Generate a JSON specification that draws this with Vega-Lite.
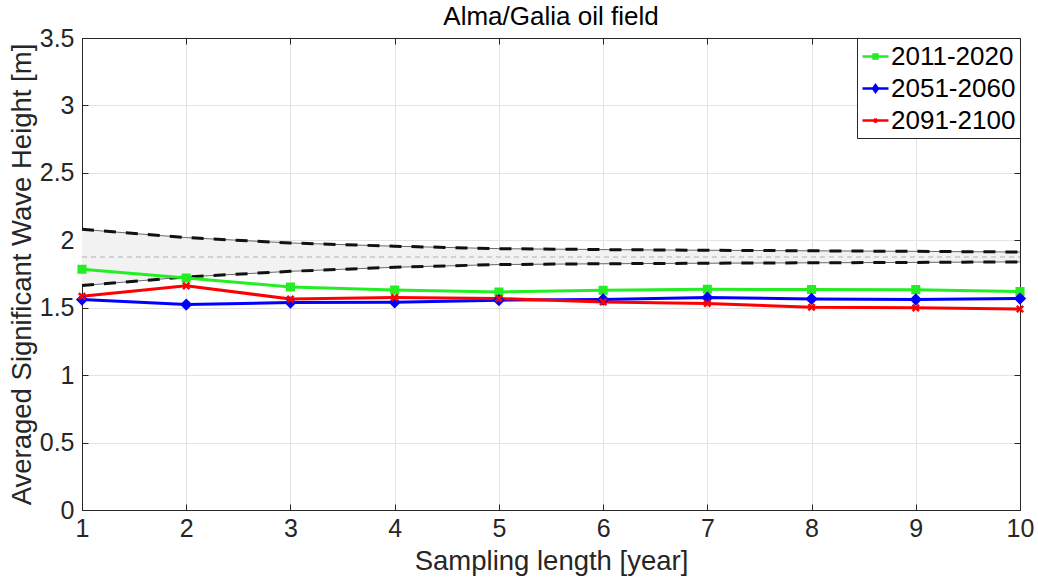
{
  "$schema": "https://vega.github.io/schema/vega-lite/v6.json",
  "autosize": {"type": "none"},
  "padding": {"left": 82, "top": 38, "right": 18, "bottom": 76},
  "width": 938,
  "height": 472,
  "title": {
    "text": "Alma/Galia oil field",
    "font": "Liberation Sans",
    "fontSize": 26,
    "fontWeight": "normal",
    "color": "#000000",
    "frame": "group",
    "offset": -4
  },
  "config": {
    "view": {"stroke": "#262626", "strokeWidth": 1},
    "font": "Liberation Sans",
    "axis": {
      "labelFont": "Liberation Sans",
      "titleFont": "Liberation Sans",
      "labelFontSize": 25,
      "titleFontSize": 27.5,
      "titleFontWeight": "normal",
      "labelColor": "#262626",
      "titleColor": "#262626",
      "domainColor": "#262626",
      "tickColor": "#262626",
      "gridColor": "#e3e3e3",
      "gridWidth": 1,
      "labelFlush": false
    }
  },
  "resolve": {"axis": {"x": "independent", "y": "independent"}},
  "datasets": {
    "series": [
      {"x": 1, "period": "2011-2020", "hgt": 1.785},
      {"x": 2, "period": "2011-2020", "hgt": 1.72},
      {"x": 3, "period": "2011-2020", "hgt": 1.654},
      {"x": 4, "period": "2011-2020", "hgt": 1.632},
      {"x": 5, "period": "2011-2020", "hgt": 1.617},
      {"x": 6, "period": "2011-2020", "hgt": 1.63},
      {"x": 7, "period": "2011-2020", "hgt": 1.637},
      {"x": 8, "period": "2011-2020", "hgt": 1.635},
      {"x": 9, "period": "2011-2020", "hgt": 1.634},
      {"x": 10, "period": "2011-2020", "hgt": 1.62},
      {"x": 1, "period": "2051-2060", "hgt": 1.56},
      {"x": 2, "period": "2051-2060", "hgt": 1.523},
      {"x": 3, "period": "2051-2060", "hgt": 1.538},
      {"x": 4, "period": "2051-2060", "hgt": 1.54},
      {"x": 5, "period": "2051-2060", "hgt": 1.556},
      {"x": 6, "period": "2051-2060", "hgt": 1.561},
      {"x": 7, "period": "2051-2060", "hgt": 1.575},
      {"x": 8, "period": "2051-2060", "hgt": 1.565},
      {"x": 9, "period": "2051-2060", "hgt": 1.561},
      {"x": 10, "period": "2051-2060", "hgt": 1.568},
      {"x": 1, "period": "2091-2100", "hgt": 1.585},
      {"x": 2, "period": "2091-2100", "hgt": 1.662},
      {"x": 3, "period": "2091-2100", "hgt": 1.565},
      {"x": 4, "period": "2091-2100", "hgt": 1.575},
      {"x": 5, "period": "2091-2100", "hgt": 1.568},
      {"x": 6, "period": "2091-2100", "hgt": 1.543},
      {"x": 7, "period": "2091-2100", "hgt": 1.531},
      {"x": 8, "period": "2091-2100", "hgt": 1.504},
      {"x": 9, "period": "2091-2100", "hgt": 1.499},
      {"x": 10, "period": "2091-2100", "hgt": 1.491}
    ],
    "band": [
      {"x": 1, "lo": 1.664, "hi": 2.081, "mid": 1.876},
      {"x": 2, "lo": 1.728, "hi": 2.02, "mid": 1.876},
      {"x": 3, "lo": 1.77, "hi": 1.98, "mid": 1.876},
      {"x": 4, "lo": 1.8, "hi": 1.956, "mid": 1.876},
      {"x": 5, "lo": 1.82, "hi": 1.938, "mid": 1.876},
      {"x": 6, "lo": 1.826, "hi": 1.931, "mid": 1.876},
      {"x": 7, "lo": 1.83, "hi": 1.926, "mid": 1.876},
      {"x": 8, "lo": 1.833, "hi": 1.922, "mid": 1.876},
      {"x": 9, "lo": 1.836, "hi": 1.918, "mid": 1.876},
      {"x": 10, "lo": 1.84, "hi": 1.913, "mid": 1.876}
    ]
  },
  "encoding": {
    "x": {
      "field": "x",
      "type": "quantitative",
      "scale": {"domain": [1, 10], "nice": false, "zero": false},
      "axis": null
    }
  },
  "layer": [
    {
      "data": {"name": "band"},
      "mark": {"type": "area", "color": "#f2f2f2", "opacity": 1},
      "encoding": {
        "x": {
          "field": "x",
          "type": "quantitative",
          "title": "Sampling length [year]",
          "scale": {"domain": [1, 10], "nice": false, "zero": false},
          "axis": {"values": [1, 2, 3, 4, 5, 6, 7, 8, 9, 10], "grid": true, "tickSize": -6, "labelPadding": 12, "titlePadding": 6}
        },
        "y": {
          "field": "lo",
          "type": "quantitative",
          "title": "Averaged Significant Wave Height [m]",
          "scale": {"domain": [0, 3.5], "nice": false},
          "axis": {"values": [0, 0.5, 1, 1.5, 2, 2.5, 3, 3.5], "format": "~g", "grid": true, "tickSize": -6, "labelPadding": 14, "titlePadding": 3}
        },
        "y2": {"field": "hi"}
      }
    },
    {
      "data": {"name": "band"},
      "mark": {"type": "line", "color": "#444444", "strokeWidth": 0.8},
      "encoding": {
        "x": {
          "field": "x",
          "type": "quantitative",
          "axis": {"orient": "top", "values": [1, 2, 3, 4, 5, 6, 7, 8, 9, 10], "grid": false, "labels": false, "title": null, "tickSize": -6}
        },
        "y": {
          "field": "lo",
          "type": "quantitative",
          "axis": {"orient": "right", "values": [0, 0.5, 1, 1.5, 2, 2.5, 3, 3.5], "grid": false, "labels": false, "title": null, "tickSize": -6}
        }
      }
    },
    {
      "data": {"name": "band"},
      "mark": {"type": "line", "color": "#444444", "strokeWidth": 0.8},
      "encoding": {"y": {"field": "hi", "type": "quantitative", "axis": null}}
    },
    {
      "data": {"name": "band"},
      "mark": {"type": "line", "color": "#b0b0b0", "strokeWidth": 1, "strokeDash": [5, 4]},
      "encoding": {"y": {"field": "mid", "type": "quantitative", "axis": null}}
    },
    {
      "data": {"name": "band"},
      "mark": {"type": "line", "color": "#111111", "strokeWidth": 3, "strokeDash": [12, 10]},
      "encoding": {"y": {"field": "lo", "type": "quantitative", "axis": null}}
    },
    {
      "data": {"name": "band"},
      "mark": {"type": "line", "color": "#111111", "strokeWidth": 3, "strokeDash": [12, 10]},
      "encoding": {"y": {"field": "hi", "type": "quantitative", "axis": null}}
    },
    {
      "data": {"name": "series"},
      "mark": {"type": "line", "strokeWidth": 3},
      "encoding": {
        "y": {"field": "hgt", "type": "quantitative", "axis": null},
        "color": {
          "field": "period",
          "type": "nominal",
          "scale": {"domain": ["2011-2020", "2051-2060", "2091-2100"], "range": ["#22ee22", "#0000ff", "#ff0000"]},
          "legend": {
            "title": null,
            "orient": "top-right",
            "offset": 0,
            "labelFont": "Liberation Sans",
            "labelFontSize": 26,
            "labelColor": "#000000",
            "strokeColor": "#262626",
            "fillColor": "#ffffff",
            "padding": 4,
            "rowPadding": 4,
            "symbolType": "M-1,0H1",
            "symbolSize": 676,
            "symbolStrokeWidth": 2.5,
            "labelOffset": 1,
            "encode": {
              "symbols": {
                "update": {
                  "shape": {"signal": "datum.value === '2011-2020' ? 'M-1,0H1M-0.15,-0.15H0.15V0.15H-0.15Z' : datum.value === '2051-2060' ? 'M-1,0H1M0,-0.26L0.19,0L0,0.26L-0.19,0Z' : 'M-1,0H1M-0.13,-0.13L0.13,0.13M-0.13,0.13L0.13,-0.13'"},
                  "fill": {"signal": "scale('color', datum.value)"},
                  "stroke": {"signal": "scale('color', datum.value)"},
                  "strokeWidth": {"value": 2.5}
                }
              }
            }
          }
        }
      }
    },
    {
      "data": {"name": "series"},
      "transform": [{"filter": {"field": "period", "equal": "2011-2020"}}],
      "mark": {"type": "point", "shape": "square", "size": 50, "filled": true, "opacity": 1, "fill": "#22ee22", "stroke": "#22ee22", "strokeWidth": 2},
      "encoding": {"y": {"field": "hgt", "type": "quantitative", "axis": null}}
    },
    {
      "data": {"name": "series"},
      "transform": [{"filter": {"field": "period", "equal": "2051-2060"}}],
      "mark": {"type": "point", "shape": "diamond", "size": 90, "filled": true, "opacity": 1, "fill": "#0000ff", "stroke": "#0000ff", "strokeWidth": 2},
      "encoding": {"y": {"field": "hgt", "type": "quantitative", "axis": null}}
    },
    {
      "data": {"name": "series"},
      "transform": [{"filter": {"field": "period", "equal": "2091-2100"}}],
      "mark": {"type": "point", "shape": "M-1,-1L1,1M-1,1L1,-1", "size": 40, "filled": false, "opacity": 1, "stroke": "#ff0000", "strokeWidth": 2.5},
      "encoding": {"y": {"field": "hgt", "type": "quantitative", "axis": null}}
    }
  ]
}
